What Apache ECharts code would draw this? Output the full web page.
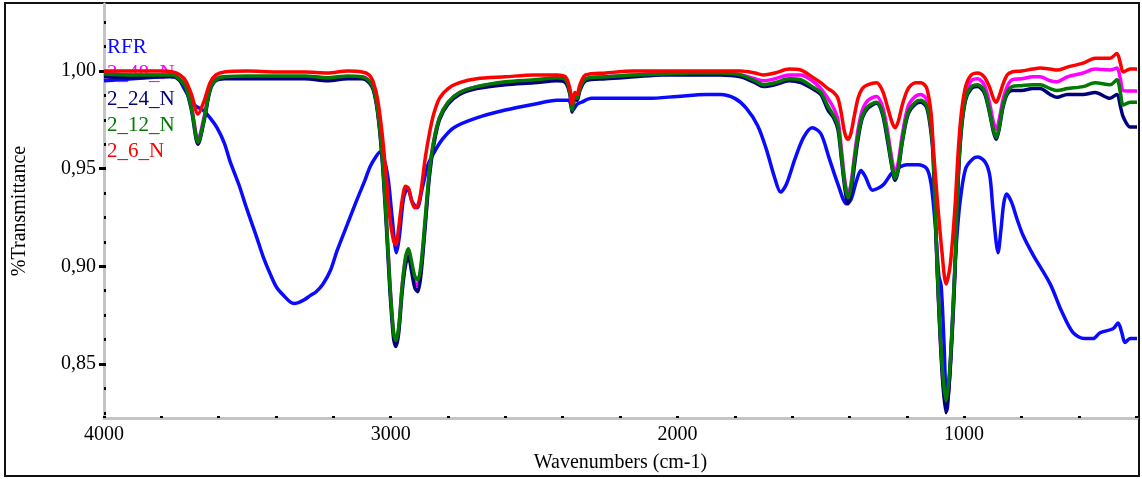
<!DOCTYPE html>
<html>
<head>
<meta charset="utf-8">
<title>FTIR spectra</title>
<script src="https://cdn.jsdelivr.net/npm/echarts@6/dist/echarts.min.js"></script>
<style>
  html, body { margin: 0; padding: 0; background: #fff; }
  #chart { width: 1142px; height: 479px; }
</style>
</head>
<body>
<div id="chart"></div>
<script>
// FTIR transmittance spectra: [wavenumber (cm-1), transmittance]
const seriesNames = ['RFR', '2_48_N', '2_24_N', '2_12_N', '2_6_N'];
const seriesColors = ['#0a0aff', '#ff00ff', '#00007a', '#007a00', '#ff0000'];

const RFR = [
  [4000,0.995],[3900,0.996],[3800,0.997],[3760,0.9975],[3740,0.996],[3724,0.992],[3700,0.986],[3680,0.982],
  [3655,0.980],[3630,0.976],[3606,0.971],[3580,0.963],[3561,0.954],[3530,0.942],[3501,0.929],[3470,0.916],
  [3445,0.905],[3420,0.896],[3397,0.889],[3370,0.8845],[3351,0.8818],[3335,0.881],[3320,0.8815],[3300,0.883],
  [3281,0.885],[3260,0.887],[3236,0.891],[3210,0.898],[3187,0.908],[3150,0.922],[3118,0.934],[3090,0.944],
  [3072,0.951],[3050,0.9565],[3037,0.9585],[3025,0.956],[3009,0.945],[2995,0.925],[2980,0.907],[2970,0.915],
  [2955,0.935],[2940,0.940],[2925,0.933],[2908,0.930],[2890,0.940],[2870,0.952],[2850,0.958],[2820,0.965],
  [2780,0.971],[2700,0.976],[2600,0.980],[2500,0.983],[2420,0.985],[2380,0.985],[2365,0.980],[2350,0.983],
  [2335,0.984],[2300,0.986],[2200,0.986],[2100,0.986],[2000,0.987],[1900,0.988],[1850,0.988],[1800,0.986],
  [1760,0.981],[1720,0.972],[1690,0.960],[1660,0.945],[1640,0.938],[1620,0.942],[1590,0.955],[1560,0.966],
  [1530,0.971],[1500,0.968],[1470,0.955],[1440,0.942],[1410,0.932],[1395,0.934],[1375,0.944],[1360,0.949],
  [1345,0.946],[1320,0.939],[1300,0.940],[1280,0.942],[1250,0.948],[1200,0.952],[1160,0.952],[1130,0.950],
  [1115,0.942],[1100,0.920],[1088,0.895],[1080,0.890],[1070,0.860],[1060,0.826],[1050,0.845],[1040,0.875],
  [1030,0.905],[1015,0.932],[995,0.950],[970,0.955],[952,0.956],[925,0.953],[910,0.946],[900,0.930],
  [888,0.912],[882,0.907],[872,0.918],[862,0.932],[852,0.937],[835,0.933],[815,0.924],[795,0.916],
  [760,0.906],[700,0.891],[660,0.877],[620,0.866],[580,0.863],[550,0.863],[526,0.866],[481,0.868],
  [463,0.871],[450,0.866],[439,0.861],[421,0.863],[397,0.863]
];

const S2_48_N = [
  [4000,0.999],[3900,0.998],[3800,0.998],[3760,0.998],[3735,0.996],[3715,0.992],[3695,0.982],[3672,0.965],
  [3650,0.977],[3630,0.991],[3610,0.996],[3580,0.997],[3500,0.997],[3400,0.997],[3300,0.997],[3220,0.9965],
  [3150,0.997],[3100,0.997],[3075,0.995],[3060,0.991],[3045,0.979],[3030,0.957],[3015,0.925],[3003,0.892],
  [2990,0.866],[2982,0.861],[2972,0.868],[2960,0.890],[2948,0.904],[2938,0.907],[2928,0.901],[2916,0.892],
  [2906,0.890],[2895,0.898],[2880,0.922],[2865,0.948],[2850,0.964],[2830,0.976],[2800,0.984],[2760,0.989],
  [2700,0.992],[2600,0.994],[2500,0.995],[2420,0.996],[2390,0.995],[2375,0.989],[2367,0.980],[2358,0.987],
  [2350,0.986],[2340,0.991],[2320,0.996],[2250,0.997],[2150,0.998],[2050,0.999],[1950,0.999],[1850,0.999],
  [1780,0.998],[1730,0.996],[1700,0.995],[1660,0.996],[1610,0.998],[1570,0.998],[1530,0.995],[1500,0.991],
  [1475,0.986],[1455,0.981],[1440,0.975],[1428,0.960],[1416,0.944],[1405,0.937],[1395,0.942],[1383,0.956],
  [1370,0.970],[1355,0.980],[1335,0.985],[1305,0.987],[1285,0.982],[1268,0.970],[1252,0.955],[1241,0.948],
  [1230,0.953],[1215,0.968],[1195,0.982],[1170,0.987],[1150,0.988],[1130,0.985],[1115,0.972],[1108,0.960],
  [1094,0.900],[1077,0.848],[1063,0.828],[1049,0.848],[1032,0.898],[1021,0.945],[1010,0.972],[995,0.988],
  [975,0.995],[952,0.996],[930,0.993],[912,0.984],[898,0.974],[888,0.970],[878,0.975],[865,0.985],
  [850,0.992],[833,0.9955],[800,0.996],[760,0.997],[735,0.997],[700,0.995],[676,0.9945],[640,0.997],
  [585,0.999],[543,1.001],[491,1.0005],[467,1.0015],[455,0.996],[445,0.990],[421,0.9898],[397,0.9898]
];

const S2_24_N = [
  [4000,0.997],[3900,0.9965],[3800,0.997],[3760,0.997],[3735,0.995],[3715,0.991],[3695,0.980],[3672,0.9625],
  [3650,0.975],[3630,0.990],[3610,0.995],[3580,0.996],[3500,0.996],[3400,0.996],[3300,0.996],[3220,0.995],
  [3150,0.996],[3100,0.996],[3075,0.994],[3060,0.990],[3045,0.978],[3030,0.955],[3015,0.920],[3003,0.888],
  [2990,0.863],[2982,0.859],[2972,0.866],[2960,0.887],[2948,0.901],[2938,0.905],[2928,0.898],[2916,0.889],
  [2906,0.887],[2895,0.895],[2880,0.920],[2865,0.946],[2850,0.962],[2830,0.975],[2800,0.983],[2760,0.988],
  [2700,0.991],[2600,0.993],[2500,0.994],[2420,0.995],[2390,0.994],[2375,0.988],[2367,0.979],[2358,0.986],
  [2350,0.985],[2340,0.990],[2320,0.995],[2250,0.996],[2150,0.997],[2050,0.998],[1950,0.998],[1850,0.998],
  [1780,0.997],[1730,0.994],[1700,0.992],[1660,0.993],[1610,0.995],[1570,0.994],[1530,0.991],[1500,0.988],
  [1475,0.980],[1455,0.976],[1440,0.970],[1428,0.955],[1416,0.940],[1405,0.932],[1395,0.937],[1383,0.951],
  [1370,0.965],[1355,0.976],[1335,0.981],[1305,0.9835],[1285,0.978],[1268,0.965],[1252,0.951],[1241,0.944],
  [1230,0.949],[1215,0.964],[1195,0.978],[1170,0.983],[1150,0.984],[1130,0.981],[1115,0.968],[1108,0.956],
  [1094,0.898],[1077,0.846],[1063,0.825],[1049,0.846],[1032,0.896],[1021,0.943],[1010,0.969],[995,0.985],
  [975,0.991],[952,0.992],[930,0.989],[912,0.979],[898,0.969],[888,0.965],[878,0.970],[865,0.981],
  [850,0.988],[833,0.990],[800,0.990],[760,0.991],[735,0.991],[700,0.988],[676,0.9865],[640,0.988],
  [585,0.988],[543,0.989],[491,0.986],[467,0.988],[455,0.982],[445,0.9765],[421,0.9713],[397,0.9713]
];

const S2_12_N = [
  [4000,0.9985],[3900,0.998],[3800,0.998],[3760,0.998],[3735,0.9955],[3715,0.9915],[3695,0.981],[3672,0.9635],
  [3650,0.976],[3630,0.991],[3610,0.9955],[3580,0.997],[3500,0.9975],[3400,0.9975],[3300,0.9975],[3220,0.9965],
  [3150,0.9975],[3100,0.997],[3075,0.995],[3060,0.991],[3045,0.979],[3030,0.957],[3015,0.923],[3003,0.891],
  [2990,0.866],[2982,0.862],[2972,0.869],[2960,0.890],[2948,0.905],[2938,0.909],[2928,0.903],[2916,0.895],
  [2906,0.893],[2895,0.900],[2880,0.924],[2865,0.949],[2850,0.964],[2830,0.976],[2800,0.984],[2760,0.989],
  [2700,0.992],[2600,0.9945],[2500,0.9955],[2420,0.9965],[2390,0.9955],[2375,0.989],[2367,0.980],[2358,0.987],
  [2350,0.986],[2340,0.991],[2320,0.996],[2250,0.997],[2150,0.998],[2050,0.9985],[1950,0.999],[1850,0.999],
  [1780,0.998],[1730,0.995],[1700,0.993],[1660,0.994],[1610,0.996],[1570,0.9955],[1530,0.992],[1500,0.989],
  [1475,0.982],[1455,0.977],[1440,0.972],[1428,0.957],[1416,0.942],[1405,0.935],[1395,0.940],[1383,0.954],
  [1370,0.967],[1355,0.977],[1335,0.982],[1305,0.984],[1285,0.979],[1268,0.967],[1252,0.952],[1241,0.945],
  [1230,0.950],[1215,0.965],[1195,0.979],[1170,0.984],[1150,0.985],[1130,0.982],[1115,0.970],[1108,0.958],
  [1094,0.900],[1077,0.850],[1063,0.831],[1049,0.850],[1032,0.900],[1021,0.945],[1010,0.970],[995,0.986],
  [975,0.992],[952,0.993],[930,0.990],[912,0.980],[898,0.970],[888,0.966],[878,0.971],[865,0.982],
  [850,0.989],[833,0.992],[800,0.9925],[760,0.993],[735,0.993],[700,0.991],[676,0.990],[640,0.991],
  [585,0.992],[543,0.994],[491,0.993],[467,0.9955],[455,0.989],[445,0.9826],[421,0.984],[397,0.984]
];

const S2_6_N = [
  [4000,1.000],[3900,1.000],[3800,1.000],[3760,0.9995],[3735,0.998],[3715,0.995],[3695,0.988],[3672,0.978],
  [3650,0.985],[3630,0.994],[3610,0.998],[3580,0.9995],[3500,1.000],[3400,0.9995],[3300,0.9995],[3220,0.999],
  [3150,1.000],[3100,0.9995],[3075,0.998],[3060,0.994],[3045,0.985],[3030,0.968],[3015,0.945],[3003,0.925],
  [2990,0.913],[2982,0.911],[2972,0.920],[2960,0.934],[2948,0.941],[2938,0.940],[2928,0.934],[2916,0.930],
  [2906,0.931],[2895,0.938],[2880,0.955],[2865,0.968],[2850,0.978],[2830,0.986],[2800,0.991],[2760,0.994],
  [2700,0.996],[2600,0.997],[2500,0.998],[2420,0.998],[2390,0.997],[2375,0.991],[2367,0.983],[2358,0.989],
  [2350,0.988],[2340,0.993],[2320,0.998],[2250,0.999],[2150,1.000],[2050,1.000],[1950,1.000],[1850,1.000],
  [1780,1.000],[1730,0.999],[1700,0.998],[1660,0.999],[1610,1.001],[1570,1.0005],[1530,0.997],[1500,0.994],
  [1475,0.991],[1455,0.989],[1440,0.986],[1428,0.978],[1416,0.968],[1405,0.965],[1395,0.968],[1383,0.977],
  [1370,0.986],[1355,0.991],[1335,0.993],[1305,0.994],[1285,0.990],[1268,0.982],[1252,0.974],[1241,0.971],
  [1230,0.974],[1215,0.983],[1195,0.991],[1170,0.994],[1150,0.994],[1130,0.991],[1115,0.978],[1108,0.962],
  [1094,0.935],[1077,0.907],[1063,0.891],[1049,0.900],[1032,0.930],[1021,0.958],[1010,0.978],[995,0.992],
  [975,0.998],[952,0.999],[930,0.997],[912,0.992],[898,0.986],[888,0.984],[878,0.987],[865,0.993],
  [850,0.998],[833,0.9995],[800,1.000],[760,1.001],[735,1.0015],[700,1.001],[676,1.0005],[640,1.002],
  [585,1.004],[543,1.0065],[491,1.0065],[467,1.009],[455,1.004],[445,0.9995],[421,1.001],[397,1.001]
];

const seriesData = [RFR, S2_48_N, S2_24_N, S2_12_N, S2_6_N];

// Axis ticks and labels
const xLabelTicks = [4000, 3000, 2000, 1000];
const xMinorTicks = [4000, 3800, 3600, 3400, 3200, 3000, 2800, 2600, 2400, 2200, 2000,
                     1800, 1600, 1400, 1200, 1000, 800, 600, 400];
const yLabelTicks = [0.85, 0.90, 0.95, 1.00];
const yMinorTicks = [0.825, 0.8375, 0.85, 0.8625, 0.875, 0.8875, 0.90, 0.9125, 0.925, 0.9375,
                     0.95, 0.9625, 0.975, 0.9875, 1.00, 1.0125, 1.025];

const FONT = 'Liberation Serif';
const AXIS_GREY = '#c4c4c4';

const chart = echarts.init(document.getElementById('chart'), null, { renderer: 'canvas' });

const yRange = { min: 0.82235, max: 1.0343 };

chart.setOption({
  animation: false,
  backgroundColor: '#fff',
  grid: { left: 104, right: 5, top: 4, bottom: 61 },
  legend: {
    orient: 'vertical',
    left: 97,
    top: 32,
    icon: 'none',
    itemWidth: 0,
    itemHeight: 20,
    itemGap: 5,
    selectedMode: false,
    textStyle: { fontFamily: FONT, fontSize: 21, lineHeight: 20 },
    data: seriesNames.map((n, i) => ({ name: n, textStyle: { color: seriesColors[i] } }))
  },
  xAxis: {
    type: 'value',
    inverse: true,
    min: 397,
    max: 4000,
    name: 'Wavenumbers (cm-1)',
    nameLocation: 'middle',
    nameGap: 35,
    nameTextStyle: { fontFamily: FONT, fontSize: 20, color: '#000' },
    axisLine: { show: true, onZero: false, lineStyle: { color: AXIS_GREY, width: 3 } },
    axisTick: { show: true, inside: true, length: 2, customValues: xMinorTicks,
                lineStyle: { color: '#000', width: 3 } },
    axisLabel: { customValues: xLabelTicks, margin: 7,
                 fontFamily: FONT, fontSize: 20, color: '#000',
                 formatter: v => String(v) },
    splitLine: { show: false }
  },
  yAxis: [
    {
      type: 'value',
      min: yRange.min,
      max: yRange.max,
      name: '%Transmittance',
      nameLocation: 'middle',
      nameRotate: 90,
      nameGap: 74,
      nameTextStyle: { fontFamily: FONT, fontSize: 20, color: '#000' },
      axisLine: { show: true, onZero: false, lineStyle: { color: AXIS_GREY, width: 3 } },
      axisTick: { show: true, inside: true, length: 2, customValues: yMinorTicks,
                  lineStyle: { color: '#000', width: 3 } },
      axisLabel: { customValues: yLabelTicks, margin: 8,
                   fontFamily: FONT, fontSize: 20, color: '#000',
                   formatter: v => v.toFixed(2).replace('.', ',') },
      splitLine: { show: false }
    },
    {
      type: 'value',
      position: 'left',
      min: yRange.min,
      max: yRange.max,
      axisLine: { show: false },
      axisTick: { show: true, length: 5, customValues: yLabelTicks,
                  lineStyle: { color: '#000', width: 3 } },
      axisLabel: { show: false },
      splitLine: { show: false }
    }
  ],
  series: seriesNames.map((n, i) => ({
    name: n,
    type: 'line',
    data: seriesData[i],
    yAxisIndex: 0,
    showSymbol: false,
    smooth: 0.3,
    lineStyle: { color: seriesColors[i], width: 3.5 },
    itemStyle: { color: seriesColors[i] },
    z: 2 + i
  })),
  graphic: [{
    type: 'rect',
    shape: { x: 5, y: 3, width: 1134, height: 473 },
    style: { fill: null, stroke: '#111', lineWidth: 2 },
    silent: true
  }]
});
</script>
</body>
</html>
